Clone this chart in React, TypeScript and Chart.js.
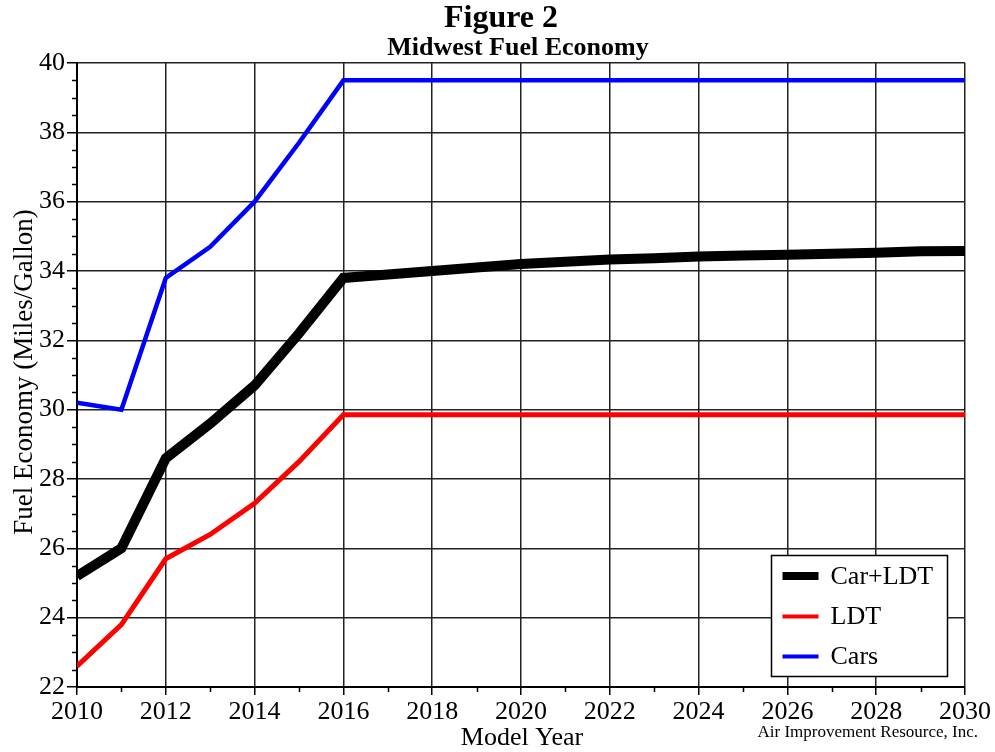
import React, { useEffect, useRef } from "react";
import { Chart, registerables } from "chart.js";

Chart.register(...registerables);

// Model years plotted on the horizontal axis
const years = [
  2010, 2011, 2012, 2013, 2014, 2015, 2016, 2017, 2018, 2019, 2020,
  2021, 2022, 2023, 2024, 2025, 2026, 2027, 2028, 2029, 2030,
];

// Fleet fuel economy, miles per gallon
const carLdt = [
  25.2, 26.0, 28.6, 29.6, 30.7, 32.2, 33.8, 33.9, 34.0, 34.1, 34.2,
  34.27, 34.33, 34.37, 34.42, 34.45, 34.47, 34.5, 34.53, 34.57, 34.58,
];
const ldt = [
  22.6, 23.8, 25.7, 26.4, 27.3, 28.5, 29.85, 29.85, 29.85, 29.85, 29.85,
  29.85, 29.85, 29.85, 29.85, 29.85, 29.85, 29.85, 29.85, 29.85, 29.85,
];
const cars = [
  30.2, 30.0, 33.8, 34.7, 36.0, 37.7, 39.5, 39.5, 39.5, 39.5, 39.5,
  39.5, 39.5, 39.5, 39.5, 39.5, 39.5, 39.5, 39.5, 39.5, 39.5,
];

const seriesLabels = ["Car+LDT", "LDT", "Cars"];
const figureTitle = "Figure 2";
const chartTitle = "Midwest Fuel Economy";
const xTitle = "Model Year";
const yTitle = "Fuel Economy (Miles/Gallon)";
const credit = "Air Improvement Resource, Inc.";

const SERIF = "'Liberation Serif', 'Times New Roman', serif";

const toPoints = (vals: number[]) => years.map((x, i) => ({ x, y: vals[i] }));

// Titles, axis titles, minor ticks, legend box and credit line
const decorations = {
  id: "decorations",
  afterDraw(chart: any) {
    const { ctx, chartArea, scales } = chart;
    const xs = scales.x;
    const ys = scales.y;
    ctx.save();
    ctx.fillStyle = "#000";

    // figure heading
    ctx.textAlign = "center";
    ctx.textBaseline = "alphabetic";
    ctx.font = `bold 32px ${SERIF}`;
    ctx.fillText(figureTitle, 501, 27);
    ctx.font = `bold 26px ${SERIF}`;
    ctx.fillText(chartTitle, 518, 55);

    // axis titles
    ctx.font = `26px ${SERIF}`;
    ctx.fillText(xTitle, 522, 745);
    ctx.save();
    ctx.translate(32, 372);
    ctx.rotate(-Math.PI / 2);
    ctx.font = `27px ${SERIF}`;
    ctx.fillText(yTitle, 0, 0);
    ctx.restore();

    // credit line
    ctx.textAlign = "right";
    ctx.font = `17px ${SERIF}`;
    ctx.fillText(credit, 978, 737);

    // minor ticks
    ctx.strokeStyle = "#000";
    ctx.lineWidth = 1.5;
    ctx.beginPath();
    for (let v = ys.min; v <= ys.max + 1e-9; v += 0.5) {
      if (Math.abs(v % 2) < 1e-9) continue;
      const py = Math.round(ys.getPixelForValue(v)) + 0.5;
      ctx.moveTo(chartArea.left - 5, py);
      ctx.lineTo(chartArea.left, py);
    }
    for (let v = xs.min + 1; v < xs.max; v += 2) {
      const px = Math.round(xs.getPixelForValue(v)) + 0.5;
      ctx.moveTo(px, chartArea.bottom);
      ctx.lineTo(px, chartArea.bottom + 5);
    }
    ctx.stroke();

    // legend
    const bw = 176;
    const bh = 121;
    const bx = chartArea.right - 17.5 - bw;
    const by = chartArea.bottom - 10.5 - bh;
    ctx.fillStyle = "#fff";
    ctx.fillRect(bx, by, bw, bh);
    ctx.strokeStyle = "#000";
    ctx.lineWidth = 1.5;
    ctx.strokeRect(bx, by, bw, bh);
    const rowY = [20.5, 61, 101];
    ctx.font = `26px ${SERIF}`;
    ctx.textAlign = "left";
    ctx.textBaseline = "middle";
    chart.data.datasets.forEach((ds: any, i: number) => {
      const ly = by + rowY[i];
      ctx.strokeStyle = ds.borderColor;
      ctx.lineWidth = i === 0 ? 8 : 4;
      ctx.lineCap = "butt";
      ctx.beginPath();
      ctx.moveTo(bx + 11, ly);
      ctx.lineTo(bx + 47, ly);
      ctx.stroke();
      ctx.fillStyle = "#000";
      ctx.fillText(ds.label, bx + 59, ly + 1);
    });
    ctx.restore();
  },
};

export default function App() {
  const canvasRef = useRef<HTMLCanvasElement | null>(null);

  useEffect(() => {
    const canvas = canvasRef.current;
    if (!canvas) return;
    const chart = new Chart(canvas, {
      type: "line",
      data: {
        datasets: [
          {
            label: seriesLabels[0],
            data: toPoints(carLdt),
            borderColor: "#000000",
            backgroundColor: "#000000",
            borderWidth: 10,
            pointRadius: 0,
            tension: 0,
          },
          {
            label: seriesLabels[1],
            data: toPoints(ldt),
            borderColor: "#ff0000",
            backgroundColor: "#ff0000",
            borderWidth: 5,
            pointRadius: 0,
            tension: 0,
          },
          {
            label: seriesLabels[2],
            data: toPoints(cars),
            borderColor: "#0000ff",
            backgroundColor: "#0000ff",
            borderWidth: 4.5,
            pointRadius: 0,
            tension: 0,
          },
        ],
      },
      options: {
        responsive: false,
        animation: false,
        events: [],
        layout: { padding: { top: 63, right: 30, left: 0, bottom: 0 } },
        plugins: {
          legend: { display: false },
          title: { display: false },
          tooltip: { enabled: false },
        },
        scales: {
          x: {
            type: "linear",
            min: 2010,
            max: 2030,
            afterFit(scale: any) {
              scale.height = 65;
            },
            ticks: {
              stepSize: 2,
              autoSkip: false,
              maxRotation: 0,
              color: "#000",
              padding: 2,
              font: { family: SERIF, size: 26 },
              callback: (v: any) => String(v),
            },
            grid: {
              color: "#222",
              lineWidth: 1.5,
              tickLength: 8,
              tickColor: "#000",
              tickWidth: 1.5,
            },
            border: { color: "#000", width: 2 },
          },
          y: {
            min: 22,
            max: 40,
            afterFit(scale: any) {
              scale.width = 77;
            },
            ticks: {
              stepSize: 2,
              color: "#000",
              padding: 2,
              font: { family: SERIF, size: 26 },
            },
            grid: {
              color: "#222",
              lineWidth: 1.5,
              tickLength: 10,
              tickColor: "#000",
              tickWidth: 1.5,
            },
            border: { color: "#000", width: 2 },
          },
        },
      },
      plugins: [decorations],
    });
    return () => chart.destroy();
  }, []);

  return (
    <div style={{ position: "absolute", left: 0, top: 0, width: 995, height: 752, background: "#fff" }}>
      <canvas ref={canvasRef} width={995} height={752} style={{ display: "block" }} />
    </div>
  );
}
